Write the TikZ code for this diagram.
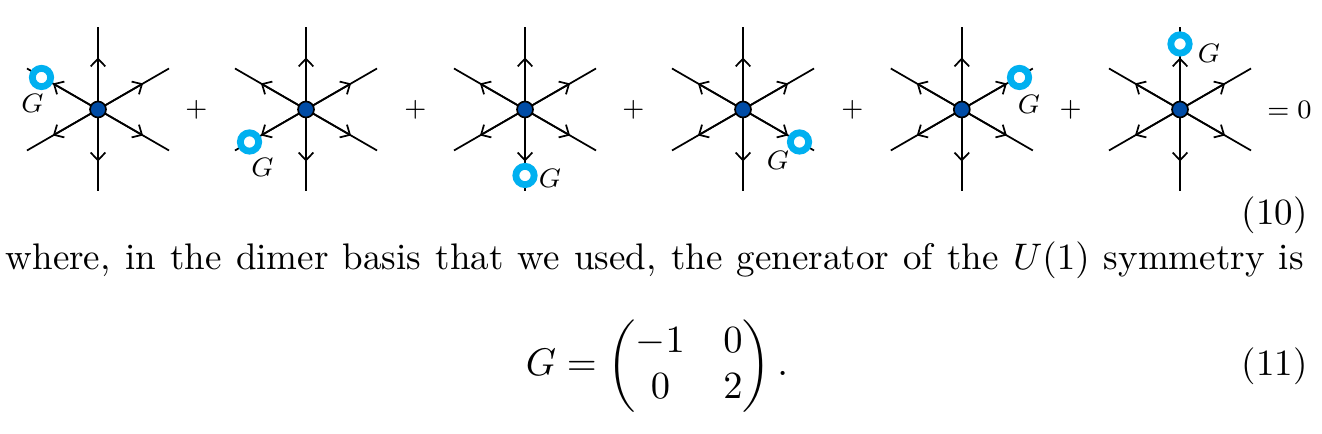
\documentclass[tikz,border=0pt]{standalone}
\usepackage{amsmath}
\usetikzlibrary{arrows.meta,calc}
\definecolor{ringblue}{RGB}{0,176,240}
\definecolor{hubblue}{RGB}{0,76,166}
\tikzset{
  x=0.3pt,y=-0.3pt,
  leg/.style={line width=0.52pt,line cap=butt},
  legarrow/.style={line width=0.52pt,-{Straight Barb[length=2.3pt,width=4.4pt,line width=0.52pt]}},
  hubdot/.style={circle,draw=black,fill=hubblue,line width=0.5pt,minimum size=4.8pt,inner sep=0pt},
  ringdot/.style={circle,draw=ringblue,fill=white,line width=2.05pt,minimum size=5.5pt,inner sep=0pt},
  small/.style={font=\fontsize{7.6}{9}\selectfont,inner sep=0pt},
  body/.style={font=\normalsize,inner sep=0pt,scale=1.11,transform shape},
}
\newcommand{\stardiag}[2]{%
  \coordinate (#1c) at (#2,109.5);
  \foreach \ang/\tip in {90/u,30/a,-30/b,-90/d,-150/e,150/f}{
    \coordinate (#1\tip) at ($(#1c)+({82*cos(\ang)},{-82*sin(\ang)})$);
    \coordinate (#1m\tip) at ($(#1c)+({52*cos(\ang)},{-52*sin(\ang)})$);
    \draw[leg] (#1c) -- (#1\tip);
    \draw[legarrow] (#1c) -- (#1m\tip);
  }
  \node[hubdot] (#1hub) at (#1c) {};
}
\begin{document}
\begin{tikzpicture}
\useasboundingbox (0,0) rectangle (1322,434);
\fill[white] (0,0) rectangle (1322,434);
\stardiag{A}{98}
\stardiag{B}{306}
\stardiag{C}{525}
\stardiag{D}{743}
\stardiag{E}{961.8}
\stardiag{F}{1180}
\node[ringdot] (ra) at (41.5,77.5) {};
\node[ringdot] (rb) at (249.5,142) {};
\node[ringdot] (rc) at (525,175.5) {};
\node[ringdot] (rd) at (799.5,142) {};
\node[ringdot] (re) at (1019.5,77.5) {};
\node[ringdot] (rf) at (1180,44) {};
\node[small] (ga) at (32.5,103) {$G$};
\node[small] (gb) at (262.5,167) {$G$};
\node[small] (gc) at (550,178) {$G$};
\node[small] (gd) at (778,160) {$G$};
\node[small] (ge) at (1029,104) {$G$};
\node[small] (gf) at (1209,53) {$G$};
\node[small] (p1) at (196.5,109.5) {$+$};
\node[small] (p2) at (415.5,109.5) {$+$};
\node[small] (p3) at (633.5,109.5) {$+$};
\node[small] (p4) at (852.5,109.5) {$+$};
\node[small] (p5) at (1070.5,109.5) {$+$};
\node[small] (eq0) at (1289.5,110) {$=0$};
\node[body,anchor=base east] (n10) at (1308.5,225) {(10)};
\node[body,anchor=base west] (line) at (5,270) {\hbox to 350.8pt{where, in the dimer basis that we used, the generator of the $U(1)$ symmetry is}};
\node[body,anchor=base,scale=1.04] (eqn) at (657,376) {$G=\begin{pmatrix}-1&0\\0&2\end{pmatrix}.$};
\node[body,anchor=base east] (n11) at (1308.5,376) {(11)};
\end{tikzpicture}
\end{document}
